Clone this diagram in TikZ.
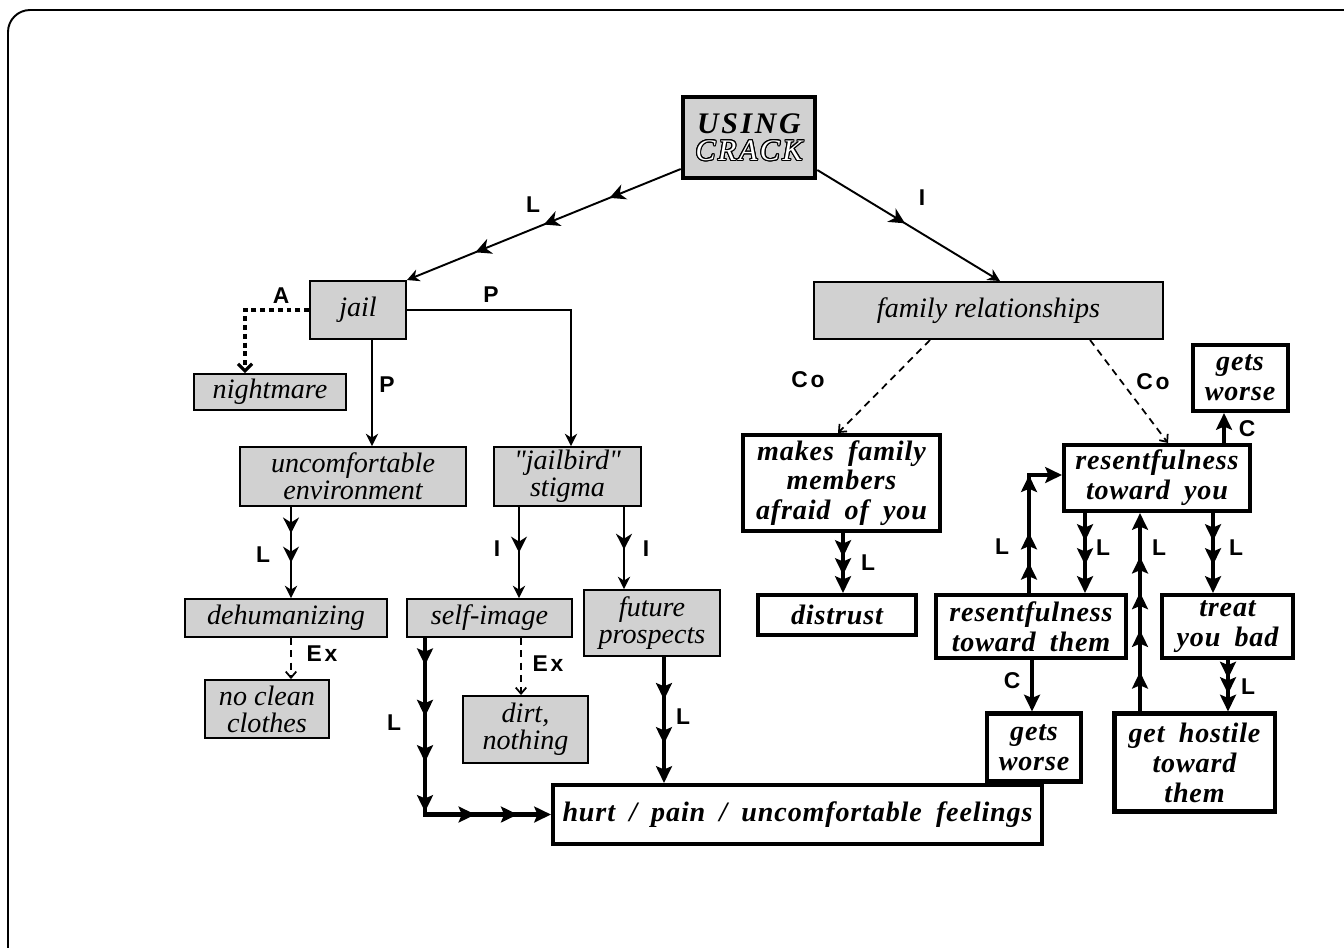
\documentclass[tikz,border=0pt]{standalone}
\usepackage{fontspec}
\setmainfont{Liberation Serif}
\newfontfamily\boxfont{Liberation Serif}[LetterSpace=3,WordSpace=1.8]
\newfontfamily\crackfont{Liberation Serif}[LetterSpace=9]
\newfontfamily\lblfont{Liberation Sans}[LetterSpace=12]
\newcommand{\dq}{{\addfontfeature{Ligatures=TeXOff}"}}
\usepackage{contour}
\contourlength{0.6pt}
\usetikzlibrary{arrows.meta,decorations.markings}

\tikzset{
  tipS/.tip={Stealth[length=7pt,width=7pt,inset=2.2pt]},
  tipM/.tip={Stealth[length=9pt,width=9pt,inset=2.8pt]},
  tipB/.tip={Stealth[length=9.5pt,width=9pt,inset=1.8pt]},
  tipD/.tip={Straight Barb[length=3.5pt,width=6pt]},
  mid/.style={postaction={decorate,decoration={markings,mark=at position #1 with {\arrow{tipM}}}}},
  bmid/.style={postaction={decorate,decoration={markings,mark=at position #1 with {\arrow{tipB}}}}},
  dims/.style 2 args={minimum width=#1*0.02cm,minimum height=#2*0.02cm},
  shaded/.style={draw,line width=1.1pt,fill=black!18,inner sep=0pt,align=center,
    font=\fontsize{16}{15.5}\selectfont\itshape},
  plain/.style={draw,line width=2.3pt,fill=white,inner sep=0pt,align=center,
    font=\boxfont\fontsize{16}{17}\selectfont\bfseries\itshape},
  lbl/.style={inner sep=0pt,font=\lblfont\fontsize{13}{13}\selectfont\bfseries},
  lnk/.style={line width=1.1pt,-{tipS}},
  lnkL/.style={line width=1.5pt,-{tipS}},
  thick lnk/.style={line width=2.3pt,-{tipB}},
  dash lnk/.style={line width=1pt,dash pattern=on 4pt off 3pt,-{tipD}},
}

\begin{document}
\begin{tikzpicture}[x=0.02cm,y=-0.02cm]
	\useasboundingbox (0,0) rectangle (1344,947);
	\draw[line width=1.1pt,rounded corners=0.44cm] (8,10) rectangle (1380,985);

	% top and left branch
	\node[plain,dims={132}{81},fill=black!18,line width=2.6pt,
		font=\crackfont\fontsize{17}{15.5}\selectfont\itshape] (crack) at (749,137.5)
		{{\bfseries USING}\\\textcolor{white}{\contour{black}{CRACK}}};
	\node[shaded,dims={96}{58}] (jail) at (358,310) {jail};
	\node[shaded,dims={152}{36}] (night) at (270,392) {nightmare};
	\node[shaded,dims={226}{59}] (uncomf) at (353,476.5) {uncomfortable\\environment};
	\node[shaded,dims={147}{59}] (jbird) at (567.5,476.5) {\dq jailbird\dq\\stigma};
	\node[shaded,dims={202}{38}] (dehum) at (286,618) {dehumanizing};
	\node[shaded,dims={165}{38}] (self) at (489.5,618) {self-image};
	\node[shaded,dims={136}{66}] (future) at (652,623) {future\\prospects};
	\node[shaded,dims={124}{58}] (clean) at (267,709) {no clean\\clothes};
	\node[shaded,dims={125}{67}] (dirt) at (525.5,729.5) {dirt,\\nothing};
	\node[plain,dims={489}{59}] (hurt) at (797.5,814.5) {hurt / pain / uncomfortable feelings};

	% right branch
	\node[shaded,dims={349}{57}] (family) at (988.5,310.5) {family relationships};
	\node[plain,dims={197}{96}] (afraid) at (841.5,483) {makes family\\members\\afraid of you};
	\node[plain,dims={158}{40}] (distrust) at (837,615) {distrust};
	\node[plain,dims={95}{66}] (worseA) at (1240,378) {gets\\worse};
	\node[plain,dims={186}{66}] (resyou) at (1157,478) {resentfulness\\toward you};
	\node[plain,dims={190}{63}] (resthem) at (1031,626.5) {resentfulness\\toward them};
	\node[plain,dims={131}{63}] (treat) at (1227.5,626.5) {treat\\you bad};
	\node[plain,dims={94}{68}] (worseB) at (1034,747.5) {gets\\worse};
	\node[plain,dims={160}{98}] (hostile) at (1194.5,762.5) {get hostile\\toward\\them};

	\draw[lnk,mid=0.26,mid=0.5,mid=0.75] (crack.west |- 0,169) -- (jail.north east);
	\draw[lnk,mid=0.48] (crack.east |- 0,170) -- (family.north -| 1000,0);
	\draw[dash lnk,line width=1.8pt,dash pattern=on 2.8pt off 2.2pt,
		-{Straight Barb[length=4pt,width=8pt]}] (jail.west) -| (night.north -| 245,0);
	\draw[lnk] (jail.south -| 372,0) -- (uncomf.north -| 372,0);
	\draw[lnk] (jail.east) -| (jbird.north -| 571,0);
	\draw[lnkL,mid=0.29,mid=0.61] (uncomf.south -| 291,0) -- (dehum.north -| 291,0);
	\draw[lnkL,mid=0.5] (jbird.south -| 519,0) -- (self.north -| 519,0);
	\draw[lnkL,mid=0.52] (jbird.south -| 624,0) -- (future.north -| 624,0);
	\draw[dash lnk] (dehum.south -| 291,0) -- (clean.north -| 291,0);
	\draw[dash lnk] (self.south -| 521,0) -- (dirt.north -| 521,0);
	\draw[thick lnk,bmid=0.09,bmid=0.26,bmid=0.41,bmid=0.575,bmid=0.75,bmid=0.89]
		(self.south -| 425,0) |- (hurt.west);
	\draw[thick lnk,bmid=0.34,bmid=0.69] (future.south -| 664,0) -- (hurt.north -| 664,0);

	\draw[dash lnk] (family.south -| 930,0) -- (afraid.north -| 838,0);
	\draw[dash lnk] (family.south -| 1090,0) -- (resyou.north -| 1168,0);
	\draw[thick lnk,bmid=0.4,bmid=0.7] (afraid.south -| 843,0) -- (distrust.north -| 843,0);
	\draw[thick lnk] (resyou.north -| 1224,0) -- (worseA.south -| 1224,0);
	\draw[thick lnk,bmid=0.2,bmid=0.4,bmid=0.78] (resthem.north -| 1029,0) |- (resyou.west |- 0,475);
	\draw[thick lnk,bmid=0.35,bmid=0.65] (resyou.south -| 1085,0) -- (resthem.north -| 1085,0);
	\draw[thick lnk,bmid=0.2,bmid=0.41,bmid=0.6,bmid=0.78] (hostile.north -| 1140,0) -- (resyou.south -| 1140,0);
	\draw[thick lnk,bmid=0.35,bmid=0.65] (resyou.south -| 1213,0) -- (treat.north -| 1213,0);
	\draw[thick lnk,bmid=0.36,bmid=0.66] (treat.south -| 1228,0) -- (hostile.north -| 1228,0);
	\draw[thick lnk] (resthem.south -| 1032,0) -- (worseB.north -| 1032,0);

	% link labels
	\node[lbl] (l1) at (533,205) {L};
	\node[lbl] (l2) at (922,198) {I};
	\node[lbl] (l3) at (281,296) {A};
	\node[lbl] (l4) at (491,295) {P};
	\node[lbl] (l5) at (387,385) {P};
	\node[lbl] (l6) at (263,555) {L};
	\node[lbl] (l7) at (497,549) {I};
	\node[lbl] (l8) at (646,549) {I};
	\node[lbl] (l9) at (322,654) {Ex};
	\node[lbl] (l10) at (548,664) {Ex};
	\node[lbl] (l11) at (394,723) {L};
	\node[lbl] (l12) at (683,717) {L};
	\node[lbl] (l13) at (808,380) {Co};
	\node[lbl] (l14) at (1153,382) {Co};
	\node[lbl] (l15) at (868,563) {L};
	\node[lbl] (l16) at (1247,429) {C};
	\node[lbl] (l17) at (1002,547) {L};
	\node[lbl] (l18) at (1103,548) {L};
	\node[lbl] (l19) at (1159,548) {L};
	\node[lbl] (l20) at (1236,548) {L};
	\node[lbl] (l21) at (1248,687) {L};
	\node[lbl] (l22) at (1012,681) {C};
\end{tikzpicture}
\end{document}
